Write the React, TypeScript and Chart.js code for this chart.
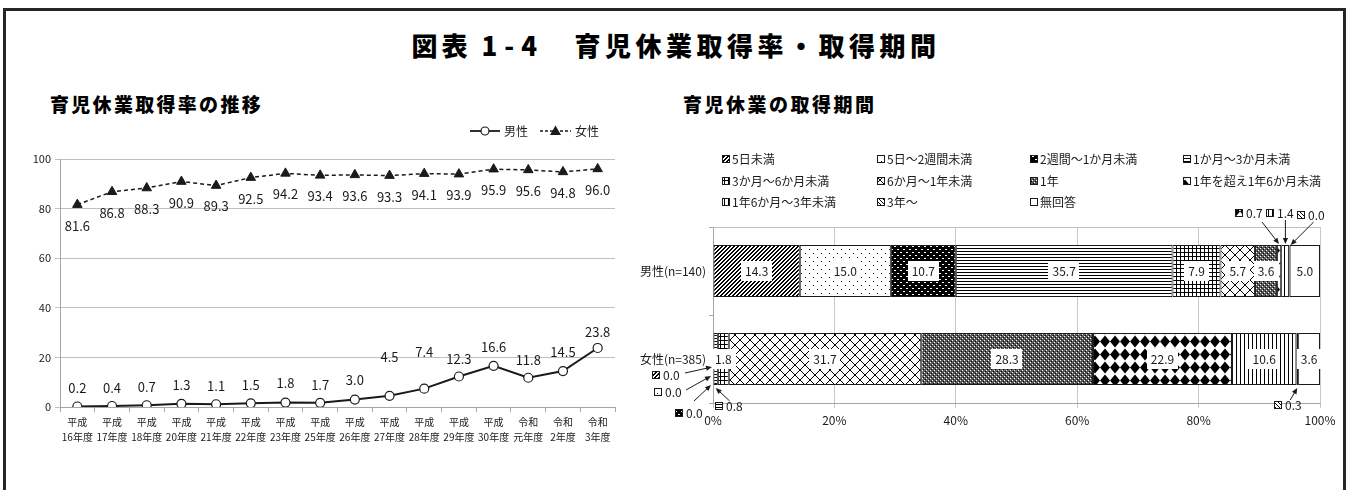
import React, { useEffect, useRef } from 'react';
import { Chart, registerables } from 'chart.js';

Chart.register(...registerables);

// ---------------- data ----------------
const yearLabels: string[][] = [
  ['平成', '16年度'], ['平成', '17年度'], ['平成', '18年度'], ['平成', '20年度'],
  ['平成', '21年度'], ['平成', '22年度'], ['平成', '23年度'], ['平成', '25年度'],
  ['平成', '26年度'], ['平成', '27年度'], ['平成', '28年度'], ['平成', '29年度'],
  ['平成', '30年度'], ['令和', '元年度'], ['令和', '2年度'], ['令和', '3年度'],
];
const maleRate = [0.2, 0.4, 0.7, 1.3, 1.1, 1.5, 1.8, 1.7, 3.0, 4.5, 7.4, 12.3, 16.6, 11.8, 14.5, 23.8];
const femaleRate = [81.6, 86.8, 88.3, 90.9, 89.3, 92.5, 94.2, 93.4, 93.6, 93.3, 94.1, 93.9, 95.9, 95.6, 94.8, 96.0];
const rateTicks = [0, 20, 40, 60, 80, 100];
const rateSeries = ['男性', '女性'];

const periodLabels = [
  '5日未満', '5日～2週間未満', '2週間～1か月未満', '1か月～3か月未満',
  '3か月～6か月未満', '6か月～1年未満', '1年', '1年を超え1年6か月未満',
  '1年6か月～3年未満', '3年～', '無回答',
];
const malePeriod = [14.3, 15.0, 10.7, 35.7, 7.9, 5.7, 3.6, 0.7, 1.4, 0.0, 5.0];
const femalePeriod = [0.0, 0.0, 0.0, 0.8, 1.8, 31.7, 28.3, 22.9, 10.6, 0.3, 3.6];
const groupLabels = ['男性(n=140)', '女性(n=385)'];
const pctTicks = [0, 20, 40, 60, 80, 100];

// ---------------- layout / style ----------------
const CJK = '"Noto Sans CJK JP", "Noto Sans", sans-serif';
const NUM = '"Noto Sans CJK JP", "Noto Sans", sans-serif';
const INK = '#1a1a1a';
const GRID = '#bfbfbf';
const AXIS = '#a6a6a6';

// vertical lift of the male value labels (px above the point)
const maleLabelLift = [18, 18, 18, 19, 18, 18, 19, 18, 19, 39, 37, 17, 19, 18, 19, 16];

// external callouts for tiny segments (offsets in px)
const callouts = [
  { ds: 7, row: 0, ex: 0, ey: -27, lx: -30, ly: -31, sx: -17, sy: -22 },
  { ds: 8, row: 0, ex: 0, ey: -27, lx: -6, ly: -31, sx: 0, sy: -24 },
  { ds: 9, row: 0, ex: 1, ey: -26, lx: 20, ly: -30, sx: 23, sy: -23 },
  { ds: 0, row: 1, ex: -1, ey: 8, lx: -46, ly: 8, sx: -27, sy: 6 },
  { ds: 1, row: 1, ex: -2, ey: 17, lx: -43, ly: 16, sx: -25, sy: 14 },
  { ds: 2, row: 1, ex: -2, ey: 26, lx: -22, ly: 28, sx: -17, sy: 16 },
  { ds: 3, row: 1, ex: 0, ey: 29, lx: 13, ly: 18, sx: 14, sy: 13 },
  { ds: 9, row: 1, ex: 0, ey: 29, lx: -9, ly: 17, sx: -7, sy: 12 },
];

function makePatterns(): (CanvasPattern | string)[] {
  const mk = (w: number, h: number, draw: (g: CanvasRenderingContext2D) => void): CanvasPattern | string => {
    const c = document.createElement('canvas');
    c.width = w; c.height = h;
    const g = c.getContext('2d');
    if (!g) return '#888';
    g.fillStyle = '#fff';
    g.fillRect(0, 0, w, h);
    g.fillStyle = '#000';
    draw(g);
    return g.createPattern(c, 'repeat') || '#888';
  };
  const px = (g: CanvasRenderingContext2D, x: number, y: number, w = 1, h = 1) => g.fillRect(x, y, w, h);
  return [
    // 5日未満: dense "/" hatching
    mk(4, 4, (g) => { for (let i = 0; i < 4; i++) { px(g, (3 - i + 4) % 4, i); px(g, (4 - i) % 4, i); } }),
    // 5日～2週間: sparse dots
    mk(8, 8, (g) => { px(g, 1, 1); px(g, 5, 5); }),
    // 2週間～1か月: black with white dots
    mk(6, 6, (g) => { g.fillRect(0, 0, 6, 6); g.fillStyle = '#fff'; px(g, 1, 1); px(g, 4, 4); px(g, 2, 1); px(g, 5, 4); }),
    // 1か月～3か月: horizontal lines
    mk(1, 3, (g) => { px(g, 0, 0); }),
    // 3か月～6か月: small grid
    mk(4, 4, (g) => { g.fillRect(0, 0, 4, 1); g.fillRect(0, 0, 1, 4); }),
    // 6か月～1年: diagonal cross lattice
    mk(10, 10, (g) => { for (let i = 0; i < 10; i++) { px(g, i, i); px(g, 9 - i, i); } }),
    // 1年: gray speckle
    mk(4, 4, (g) => { g.fillStyle = '#5a5a5a'; g.fillRect(0, 0, 4, 4); g.fillStyle = '#fff'; px(g, 0, 0); px(g, 2, 2); g.fillStyle = '#000'; px(g, 1, 3); px(g, 3, 1); }),
    // 1年超～1年6か月: black diamonds
    mk(10, 13, (g) => { g.beginPath(); g.moveTo(5, 0.5); g.lineTo(10, 6.5); g.lineTo(5, 12.5); g.lineTo(0, 6.5); g.closePath(); g.fill(); }),
    // 1年6か月～3年: vertical lines
    mk(4, 1, (g) => { px(g, 0, 0); }),
    // 3年～: "\" hatching
    mk(4, 4, (g) => { for (let i = 0; i < 4; i++) px(g, i, i); }),
    // 無回答: white
    '#ffffff',
  ];
}

function drawArrow(ctx: CanvasRenderingContext2D, x1: number, y1: number, x2: number, y2: number) {
  const ang = Math.atan2(y2 - y1, x2 - x1);
  const len = 6, half = 2.6;
  ctx.beginPath();
  ctx.moveTo(x1, y1);
  ctx.lineTo(x2 - Math.cos(ang) * len * 0.8, y2 - Math.sin(ang) * len * 0.8);
  ctx.stroke();
  ctx.beginPath();
  ctx.moveTo(x2, y2);
  ctx.lineTo(x2 - Math.cos(ang) * len - Math.sin(ang) * half, y2 - Math.sin(ang) * len + Math.cos(ang) * half);
  ctx.lineTo(x2 - Math.cos(ang) * len + Math.sin(ang) * half, y2 - Math.sin(ang) * len - Math.cos(ang) * half);
  ctx.closePath();
  ctx.fill();
}

function swatch(ctx: CanvasRenderingContext2D, fill: CanvasPattern | string, x: number, y: number) {
  ctx.save();
  ctx.fillStyle = fill as any;
  ctx.fillRect(x, y, 8, 8);
  ctx.strokeStyle = INK;
  ctx.lineWidth = 1;
  ctx.strokeRect(x + 0.5, y + 0.5, 7, 7);
  ctx.restore();
}

export default function App() {
  const leftRef = useRef<HTMLCanvasElement>(null);
  const rightRef = useRef<HTMLCanvasElement>(null);

  useEffect(() => {
    if (!leftRef.current || !rightRef.current) return;
    const patterns = makePatterns();

    const leftDecor = {
      id: 'leftDecor',
      afterDatasetsDraw(chart: any) {
        const ctx: CanvasRenderingContext2D = chart.ctx;
        ctx.save();
        ctx.font = `13px ${NUM}`;
        ctx.fillStyle = INK;
        ctx.textAlign = 'center';
        ctx.textBaseline = 'middle';
        chart.getDatasetMeta(1).data.forEach((p: any, i: number) => {
          ctx.fillText(femaleRate[i].toFixed(1), p.x, p.y + 21);
        });
        chart.getDatasetMeta(0).data.forEach((p: any, i: number) => {
          ctx.fillText(maleRate[i].toFixed(1), p.x, p.y - maleLabelLift[i]);
        });
        // legend
        const ly = 19;
        ctx.strokeStyle = INK;
        ctx.lineWidth = 1.8;
        ctx.beginPath(); ctx.moveTo(470, ly); ctx.lineTo(500, ly); ctx.stroke();
        ctx.beginPath(); ctx.arc(485, ly, 4, 0, Math.PI * 2);
        ctx.fillStyle = '#fff'; ctx.fill(); ctx.lineWidth = 1.2; ctx.stroke();
        ctx.fillStyle = INK;
        ctx.font = `12px ${CJK}`;
        ctx.textAlign = 'left';
        ctx.fillText(rateSeries[0], 504, ly);
        ctx.lineWidth = 1.5;
        ctx.setLineDash([3, 2]);
        ctx.beginPath(); ctx.moveTo(540, ly); ctx.lineTo(571, ly); ctx.stroke();
        ctx.setLineDash([]);
        ctx.beginPath(); ctx.moveTo(555.5, ly - 5.5); ctx.lineTo(561, ly + 4); ctx.lineTo(550, ly + 4); ctx.closePath(); ctx.fill();
        ctx.fillText(rateSeries[1], 575, ly);
        ctx.restore();
      },
    };

    const left = new Chart(leftRef.current, {
      type: 'line',
      data: {
        labels: yearLabels as any,
        datasets: [
          {
            label: rateSeries[0], data: maleRate, borderColor: INK, borderWidth: 2,
            pointStyle: 'circle', pointRadius: 4.5, pointBackgroundColor: '#fff',
            pointBorderColor: INK, pointBorderWidth: 1.2, tension: 0,
          },
          {
            label: rateSeries[1], data: femaleRate, borderColor: INK, borderWidth: 1.5,
            borderDash: [4, 3], pointStyle: 'triangle', pointRadius: 5.5,
            pointBackgroundColor: INK, pointBorderColor: INK, pointBorderWidth: 1, tension: 0,
          },
        ],
      },
      options: {
        responsive: false,
        animation: false,
        devicePixelRatio: 1,
        layout: { padding: { left: 20, top: 47, right: 25, bottom: 10 } },
        plugins: { legend: { display: false }, tooltip: { enabled: false }, title: { display: false } },
        scales: {
          x: {
            offset: true,
            grid: { offset: true, display: true, drawOnChartArea: false, drawTicks: true, tickLength: 5, color: AXIS },
            border: { color: AXIS },
            ticks: { autoSkip: false, maxRotation: 0, minRotation: 0, padding: 3, color: INK, font: { family: NUM, size: 10, lineHeight: 1.5 } },
            afterFit: (s: any) => { s.height = 40; },
          },
          y: {
            min: 0, max: 100,
            afterBuildTicks: (s: any) => { s.ticks = rateTicks.map((v) => ({ value: v })); },
            ticks: { color: INK, padding: 4, font: { family: NUM, size: 11 } },
            grid: { color: GRID, tickLength: 5 },
            border: { color: AXIS },
            afterFit: (s: any) => { s.width = 40; },
          },
        },
      } as any,
      plugins: [leftDecor],
    });

    const calloutKeys = new Set(callouts.map((c) => `${c.ds}-${c.row}`));

    const rightDecor = {
      id: 'rightDecor',
      afterDatasetsDraw(chart: any) {
        const ctx: CanvasRenderingContext2D = chart.ctx;
        const { left: l, right: r, top: t } = chart.chartArea;
        ctx.save();
        // top border of the plot
        ctx.strokeStyle = GRID;
        ctx.lineWidth = 1;
        ctx.beginPath(); ctx.moveTo(l, Math.round(t) + 0.5); ctx.lineTo(r, Math.round(t) + 0.5); ctx.stroke();

        ctx.font = `12px ${NUM}`;
        ctx.textAlign = 'center';
        ctx.textBaseline = 'middle';
        // inner labels
        for (let ds = 0; ds < periodLabels.length; ds++) {
          const meta = chart.getDatasetMeta(ds);
          const vals = [malePeriod[ds], femalePeriod[ds]];
          for (let row = 0; row < 2; row++) {
            if (calloutKeys.has(`${ds}-${row}`) || vals[row] <= 0) continue;
            const el = meta.data[row];
            const cx = (el.x + el.base) / 2;
            const cy = el.y;
            const txt = vals[row].toFixed(1);
            const w = ctx.measureText(txt).width + 8;
            ctx.fillStyle = '#fff';
            ctx.fillRect(Math.round(cx - w / 2), Math.round(cy - 10), Math.round(w), 20);
            ctx.fillStyle = INK;
            ctx.textAlign = 'center';
            ctx.fillText(txt, cx, cy + 0.5);
          }
        }
        // callouts
        ctx.strokeStyle = INK;
        ctx.fillStyle = INK;
        ctx.lineWidth = 1;
        callouts.forEach((c) => {
          const el = chart.getDatasetMeta(c.ds).data[c.row];
          const v = c.row === 0 ? malePeriod[c.ds] : femalePeriod[c.ds];
          const tx = (el.x + el.base) / 2 + c.ex;
          const ty = el.y + c.ey;
          const lx = tx + c.lx;
          const ly = ty + c.ly;
          const txt = v.toFixed(1);
          const tw = ctx.measureText(txt).width;
          const total = 8 + 3 + tw;
          const x0 = Math.round(lx - total / 2);
          swatch(ctx, patterns[c.ds], x0, Math.round(ly - 4));
          ctx.fillStyle = INK;
          ctx.textAlign = 'left';
          ctx.fillText(txt, x0 + 11, ly + 0.5);
          drawArrow(ctx, tx + c.sx, ty + c.sy, tx, ty);
        });
        // legend (4 columns x 3 rows)
        const colX = [102, 257, 410, 563];
        const rowY = [19, 41, 62];
        ctx.font = `12px ${CJK}`;
        ctx.textAlign = 'left';
        periodLabels.forEach((lab, i) => {
          const x = colX[i % 4];
          const y = rowY[Math.floor(i / 4)];
          swatch(ctx, patterns[i], x, y - 4);
          ctx.fillStyle = INK;
          ctx.fillText(lab, x + 10, y + 0.5);
        });
        ctx.restore();
      },
    };

    const right = new Chart(rightRef.current, {
      type: 'bar',
      data: {
        labels: groupLabels,
        datasets: periodLabels.map((lab, i) => ({
          label: lab,
          data: [malePeriod[i], femalePeriod[i]],
          backgroundColor: patterns[i] as any,
          borderColor: INK,
          borderWidth: 1,
          borderSkipped: false,
          categoryPercentage: 1,
          barPercentage: 0.59,
        })),
      },
      options: {
        indexAxis: 'y',
        responsive: false,
        animation: false,
        devicePixelRatio: 1,
        layout: { padding: { left: 0, top: 87, right: 25, bottom: 12 } },
        plugins: { legend: { display: false }, tooltip: { enabled: false }, title: { display: false } },
        scales: {
          x: {
            stacked: true, min: 0, max: 100,
            afterBuildTicks: (s: any) => { s.ticks = pctTicks.map((v) => ({ value: v })); },
            ticks: { color: INK, padding: 5, font: { family: NUM, size: 12 }, callback: (v: any) => `${v}%` },
            grid: { color: '#c8c8c8', tickLength: 5 },
            border: { color: AXIS },
            afterFit: (s: any) => { s.height = 25; },
          },
          y: {
            stacked: true,
            grid: { display: true, drawOnChartArea: false, tickLength: 4, color: AXIS },
            border: { color: AXIS },
            ticks: { color: INK, padding: 3, font: { family: NUM, size: 12 } },
            afterFit: (s: any) => { s.width = 93; },
          },
        },
      } as any,
      plugins: [rightDecor],
    });

    return () => { left.destroy(); right.destroy(); };
  }, []);

  const heading = { position: 'absolute' as const, fontWeight: 900, whiteSpace: 'pre' as const };

  return (
    <div style={{ position: 'absolute', left: 0, top: 0, width: 1352, height: 490, background: '#fff', overflow: 'hidden', fontFamily: CJK, color: '#000' }}>
      <div style={{ position: 'absolute', left: 3, top: 8, width: 1337, height: 490, borderTop: '3px solid #262626', borderLeft: '3px solid #262626', borderRight: '3px solid #262626' }} />
      <div style={{ ...heading, left: 0, top: 30, width: 1352, textAlign: 'center', fontSize: 26, lineHeight: '30px' }}>
        <span style={{ letterSpacing: 4 }}>図表 </span>
        <span style={{ letterSpacing: 7 }}>1-4</span>
        <span style={{ letterSpacing: 4.5 }}>　育児休業取得率・取得期間</span>
      </div>
      <div style={{ ...heading, left: 50, top: 93, fontSize: 19, letterSpacing: 2.3, lineHeight: '22px' }}>
        育児休業取得率の推移
      </div>
      <div style={{ ...heading, left: 683, top: 93, fontSize: 19, letterSpacing: 2.5, lineHeight: '22px' }}>
        育児休業の取得期間
      </div>
      <canvas ref={leftRef} width={640} height={345} style={{ position: 'absolute', left: 0, top: 112, width: 640, height: 345, display: 'block' }} />
      <canvas ref={rightRef} width={725} height={300} style={{ position: 'absolute', left: 620, top: 140, width: 725, height: 300, display: 'block' }} />
    </div>
  );
}
